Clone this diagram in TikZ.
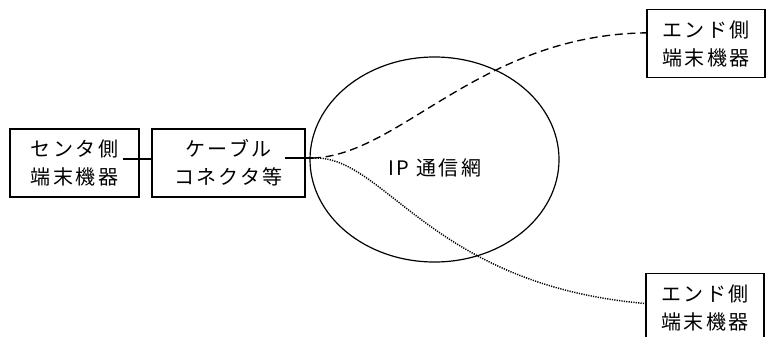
\documentclass[tikz,border=0pt]{standalone}
\usepackage{fontspec}
\newfontfamily\jpfont[LetterSpace=12]{Noto Sans CJK JP}
\usetikzlibrary{positioning,shapes.geometric}

\begin{document}
\begin{tikzpicture}[x=0.75pt, y=-0.75pt,
    box/.style={draw, line width=0.9pt, align=center, inner sep=0pt,
                minimum width=96.75pt, minimum height=51pt, font=\jpfont\fontsize{15}{21}\selectfont},
    endbox/.style={box, minimum width=88.5pt},
    wire/.style={line width=0.9pt},
    dashwire/.style={line width=1pt, dash pattern=on 6pt off 3.5pt},
    dotwire/.style={line width=1.1pt, dash pattern=on 0.9pt off 0.9pt}]
    \path[use as bounding box, clip] (0,0) rectangle (767,336);
    \node[box] (center) at (74.5,163) {センタ側\\端末機器};
    \node[box, minimum width=114.75pt] (cable) at (228.5,163) {ケーブル\\コネクタ等};
    \node[ellipse, draw, line width=0.9pt, inner sep=0pt,
          minimum width=186.75pt, minimum height=153.75pt] (net) at (434.5,159.5) {};
    \node[font=\jpfont\fontsize{15}{15}\selectfont] (netlabel) at (435,168) {IP 通信網};
    \node[endbox] (endA) at (706,43.5) {エンド側\\端末機器};
    \node[endbox] (endB) at (705,307.5) {エンド側\\端末機器};
    % wiring
    \coordinate (tap1) at (123,159);
    \coordinate (tap2) at (285,158);
    \coordinate (hub) at (313,158);
    \draw[wire] (tap1) -- (center.east |- tap1) -- (cable.west |- tap1);
    \draw[wire] (tap2) -- (hub);
    \draw[dashwire] (hub) .. controls (400,155) and (480,35) .. ([yshift=8pt]endA.west);
    \draw[dotwire] (hub) .. controls (385,155) and (430,285) .. ([yshift=3pt]endB.west);
\end{tikzpicture}
\end{document}
